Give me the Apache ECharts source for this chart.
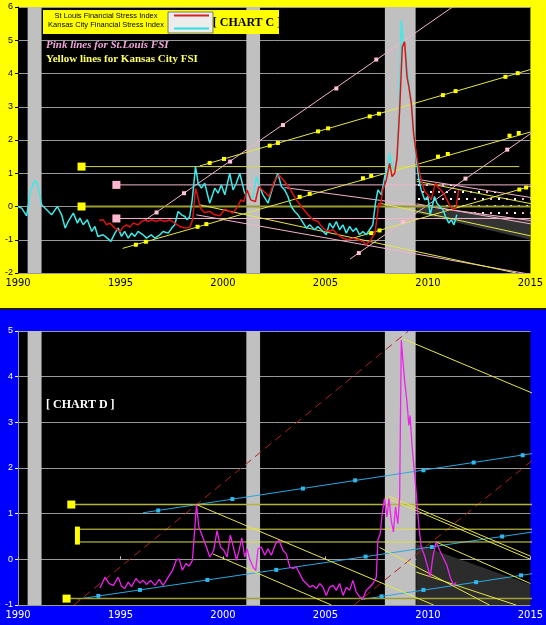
<!DOCTYPE html>
<html><head><meta charset="utf-8">
<script src="https://cdn.jsdelivr.net/npm/echarts@6/dist/echarts.min.js"></script>
<style>
html,body{margin:0;padding:0;}
body{width:546px;height:625px;background:linear-gradient(#ffff00 0px,#ffff00 308px,#1a1a1a 308px,#1a1a1a 310px,#0000ff 310px);}
#c{width:546px;height:625px;}
</style>
</head><body><div id="c"></div>
<script>
// ---------- DATA ----------
const yearTicks = [1990, 1995, 2000, 2005, 2010, 2015];
const recessions = [[1990.47, 1991.15], [2001.14, 2001.81], [2007.9, 2009.4]];

const kcFSI = [[1990.0,0.0],[1990.18,-0.05],[1990.42,-0.28],[1990.62,0.5],[1990.83,0.78],[1990.94,0.7],[1991.15,0.05],[1991.4,-0.1],[1991.64,-0.25],[1991.92,0.0],[1992.13,-0.25],[1992.3,-0.65],[1992.45,-0.45],[1992.7,-0.2],[1992.9,-0.5],[1993.02,-0.35],[1993.18,-0.55],[1993.38,-0.4],[1993.6,-0.75],[1993.75,-0.6],[1993.9,-0.9],[1994.15,-0.85],[1994.3,-0.92],[1994.53,-1.05],[1994.73,-0.8],[1994.89,-0.65],[1995.05,-0.9],[1995.2,-0.75],[1995.38,-0.95],[1995.54,-0.8],[1995.7,-0.9],[1995.86,-0.75],[1996.1,-0.85],[1996.27,-0.95],[1996.5,-0.85],[1996.68,-0.95],[1996.92,-0.85],[1997.08,-0.75],[1997.33,-0.8],[1997.5,-0.65],[1997.65,-0.55],[1997.81,-0.15],[1997.98,-0.25],[1998.14,-0.3],[1998.25,-0.4],[1998.38,-0.3],[1998.5,0.2],[1998.66,1.2],[1998.79,0.7],[1998.95,0.55],[1999.11,0.7],[1999.35,0.1],[1999.6,0.55],[1999.76,0.4],[1999.92,0.65],[2000.09,0.35],[2000.33,1.0],[2000.49,0.5],[2000.65,0.7],[2000.82,1.0],[2001.06,0.4],[2001.3,0.3],[2001.47,0.25],[2001.63,0.9],[2001.79,0.6],[2001.95,0.35],[2002.2,0.1],[2002.44,0.6],[2002.68,1.0],[2002.85,0.6],[2003.01,0.5],[2003.17,0.3],[2003.33,0.0],[2003.5,-0.15],[2003.66,-0.25],[2003.82,-0.4],[2004.07,-0.65],[2004.23,-0.55],[2004.47,-0.7],[2004.63,-0.6],[2004.8,-0.7],[2005.04,-0.85],[2005.2,-0.5],[2005.37,-0.65],[2005.53,-0.45],[2005.69,-0.7],[2005.85,-0.55],[2006.02,-0.8],[2006.18,-0.6],[2006.34,-0.75],[2006.5,-0.65],[2006.66,-0.85],[2006.83,-0.75],[2006.99,-0.85],[2007.15,-0.7],[2007.31,-0.55],[2007.44,0.1],[2007.56,0.5],[2007.73,0.35],[2007.89,0.9],[2008.05,1.2],[2008.13,1.6],[2008.25,1.2],[2008.38,1.1],[2008.49,1.5],[2008.59,2.9],[2008.7,5.6],[2008.78,5.0],[2008.91,4.7],[2009.03,3.9],[2009.14,3.4],[2009.27,2.6],[2009.35,1.9],[2009.46,1.3],[2009.56,0.8],[2009.67,0.5],[2009.84,0.2],[2010.0,0.3],[2010.11,-0.25],[2010.21,0.0],[2010.32,0.3],[2010.44,0.1],[2010.57,0.0],[2010.73,-0.1],[2010.86,-0.3],[2011.02,-0.5],[2011.14,-0.4],[2011.27,-0.55],[2011.41,-0.25]];

const stlFSI = [[1993.96,-0.42],[1994.16,-0.4],[1994.32,-0.55],[1994.48,-0.5],[1994.73,-0.65],[1994.97,-0.75],[1995.13,-0.62],[1995.3,-0.55],[1995.46,-0.62],[1995.62,-0.5],[1995.86,-0.55],[1996.03,-0.45],[1996.19,-0.4],[1996.35,-0.45],[1996.51,-0.4],[1996.76,-0.45],[1996.92,-0.4],[1997.16,-0.45],[1997.41,-0.4],[1997.65,-0.5],[1997.89,-0.6],[1998.14,-0.65],[1998.38,-0.62],[1998.52,-0.4],[1998.66,0.55],[1998.75,0.35],[1998.9,-0.05],[1999.1,-0.18],[1999.35,-0.15],[1999.6,-0.25],[1999.85,-0.28],[2000.1,-0.08],[2000.33,-0.15],[2000.49,-0.2],[2000.72,0.0],[2000.88,0.2],[2001.02,0.15],[2001.18,0.5],[2001.35,0.2],[2001.58,0.15],[2001.75,0.6],[2002.0,0.45],[2002.25,0.3],[2002.5,0.75],[2002.72,0.95],[2003.01,0.75],[2003.25,0.55],[2003.58,0.2],[2003.82,0.0],[2004.15,-0.25],[2004.39,-0.4],[2004.63,-0.45],[2004.88,-0.65],[2005.12,-0.75],[2005.37,-0.7],[2005.61,-0.85],[2005.85,-0.95],[2006.1,-1.0],[2006.34,-0.95],[2006.58,-1.0],[2006.83,-1.05],[2006.99,-1.15],[2007.2,-1.02],[2007.42,-0.8],[2007.52,-0.3],[2007.6,0.1],[2007.68,0.0],[2007.8,0.5],[2007.97,0.8],[2008.13,1.3],[2008.25,0.9],[2008.38,1.0],[2008.49,1.45],[2008.62,2.9],[2008.75,4.8],[2008.86,4.95],[2008.98,3.9],[2009.07,3.6],[2009.19,3.1],[2009.3,2.2],[2009.43,1.6],[2009.56,1.1],[2009.67,0.8],[2009.84,0.45],[2010.0,0.35],[2010.16,0.2],[2010.28,0.5],[2010.37,0.7],[2010.54,0.55],[2010.7,0.45],[2010.89,0.25],[2011.09,0.0],[2011.25,-0.1],[2011.38,0.0],[2011.5,0.5]];

const stlFSI_D = [[1994.0,-0.63],[1994.24,-0.39],[1994.45,-0.53],[1994.65,-0.57],[1994.89,-0.39],[1995.05,-0.59],[1995.21,-0.64],[1995.38,-0.5],[1995.54,-0.6],[1995.75,-0.42],[1995.95,-0.52],[1996.11,-0.46],[1996.27,-0.55],[1996.47,-0.46],[1996.68,-0.57],[1996.89,-0.44],[1997.08,-0.57],[1997.33,-0.39],[1997.54,-0.24],[1997.73,-0.01],[1997.86,0.01],[1998.02,-0.24],[1998.19,-0.09],[1998.35,-0.15],[1998.51,-0.02],[1998.63,0.71],[1998.71,1.2],[1998.82,0.71],[1998.95,0.56],[1999.16,0.31],[1999.36,0.05],[1999.55,0.2],[1999.71,0.63],[1999.88,0.27],[2000.04,0.2],[2000.2,0.05],[2000.36,0.53],[2000.53,0.23],[2000.66,-0.02],[2000.79,0.2],[2000.92,0.47],[2001.06,0.05],[2001.18,0.23],[2001.3,0.01],[2001.47,-0.17],[2001.6,-0.24],[2001.71,0.23],[2001.87,0.27],[2002.04,0.09],[2002.2,0.23],[2002.36,0.09],[2002.57,0.34],[2002.73,0.42],[2002.93,0.2],[2003.09,0.12],[2003.26,-0.17],[2003.42,-0.2],[2003.58,-0.17],[2003.74,-0.31],[2003.91,-0.46],[2004.07,-0.53],[2004.23,-0.61],[2004.39,-0.57],[2004.56,-0.64],[2004.72,-0.53],[2004.88,-0.61],[2005.04,-0.79],[2005.2,-0.61],[2005.37,-0.57],[2005.53,-0.68],[2005.69,-0.53],[2005.86,-0.79],[2006.02,-0.61],[2006.18,-0.68],[2006.34,-0.46],[2006.5,-0.71],[2006.67,-0.82],[2006.83,-0.86],[2006.99,-0.68],[2007.15,-0.61],[2007.32,-0.53],[2007.48,-0.39],[2007.56,0.42],[2007.67,0.56],[2007.77,1.0],[2007.88,1.33],[2008.0,0.93],[2008.1,1.33],[2008.21,0.85],[2008.32,0.6],[2008.42,1.15],[2008.53,0.78],[2008.62,1.36],[2008.7,4.8],[2008.78,4.35],[2008.86,3.92],[2008.97,3.48],[2009.07,2.93],[2009.13,3.15],[2009.23,2.46],[2009.35,1.87],[2009.43,1.44],[2009.56,0.71],[2009.67,0.27],[2009.83,0.09],[2009.99,-0.17],[2010.11,-0.39],[2010.24,0.05],[2010.4,0.38],[2010.57,0.2],[2010.73,0.05],[2010.92,-0.13],[2011.09,-0.39],[2011.25,-0.57],[2011.38,-0.5]];

// Chart C trend lines (pink = St.Louis, yellow = Kansas City)
const pinkRiseA = [[1996.2,-0.41],[2011.2,6.0]];
const pinkRiseA_pts = [[1996.76,-0.18],[1998.1,0.4],[2000.35,1.35],[2002.93,2.45],[2005.53,3.55],[2007.48,4.42]];
const pinkRiseB = [[2006.2,-1.58],[2015.73,2.5]];
const pinkRiseB_pts = [[2006.63,-1.4],[2008.78,-0.47],[2011.83,0.84],[2013.87,1.71]];
const pinkFlatHi = [[1994.8,0.65],[2015.73,0.65]];
const pinkFlatLo = [[1994.8,-0.36],[2015.73,-0.36]];
const pinkFall1 = [[1998.7,-0.25],[2015.0,-2.04]];
const pinkFall2 = [[2003.0,0.57],[2015.73,-0.48]];
const pinkChanTop = [[2009.45,0.82],[2015.73,0.2]];
const pinkChanBot = [[2009.45,0.08],[2015.73,-0.6]];
const pinkBigSquares = [[1994.8,0.65],[1994.8,-0.36]];

const yelFlatHi = [[1993.1,1.2],[2014.46,1.2]];
const yelFlatZero = [[1993.1,0],[2015.0,0]];
const yelBigSquares = [[1993.1,1.2],[1993.1,0]];
const yelRiseLow = [[1995.1,-1.26],[2015.73,2.37]];
const yelRiseLow_pts = [[1995.75,-1.15],[1996.24,-1.06],[1998.76,-0.61],[1999.19,-0.53],[2003.74,0.29],[2004.23,0.38],[2006.83,0.85],[2007.23,0.92],[2010.49,1.5],[2010.97,1.58],[2013.98,2.13],[2014.43,2.21]];
const yelRiseHigh = [[1998.87,1.22],[2015.73,4.25]];
const yelRiseHigh_pts = [[1999.35,1.31],[2000.05,1.43],[2002.28,1.83],[2002.68,1.91],[2004.64,2.26],[2005.13,2.35],[2007.16,2.71],[2007.61,2.79],[2010.73,3.35],[2011.35,3.47],[2013.78,3.9],[2014.38,4.01]];
const yelRiseMid = [[2006.3,-0.96],[2015.73,0.74]];
const yelRiseMid_pts = [[2007.23,-0.8],[2007.64,-0.72],[2014.46,0.51],[2014.79,0.57]];
const yelFall1 = [[1998.87,0.05],[2014.3,-2.0]];
const yelFall2 = [[2007.64,0.1],[2015.73,-0.98]];
const yelFall3 = [[2009.45,0.76],[2015.73,0.0]];
const kcGrayBand = [[2009.45,0.0],[2015.0,-0.38],[2015.0,-1.0],[2009.45,-0.2]];
const stlDotBand = [[2009.45,0.82],[2015.0,0.27],[2015.0,-0.38],[2009.45,0.0]];

// Chart D trend lines
const redDashA = [[1992.73,-1],[2009.05,5]];
const redDashB = [[2006.4,-1],[2015.73,2.4]];
const blueRiseHigh = [[1996.1,1.02],[2015.73,2.36]];
const blueRiseHigh_pts = [[1996.84,1.07],[2000.46,1.32],[2003.9,1.55],[2006.45,1.73],[2009.78,1.95],[2012.23,2.12],[2014.62,2.28]];
const blueRiseMid = [[1992.92,-0.87],[2015.73,0.64]];
const blueRiseMid_pts = [[1993.92,-0.8],[1995.95,-0.67],[1999.24,-0.45],[2002.6,-0.23],[2006.96,0.06],[2010.19,0.27],[2013.62,0.5]];
const blueRiseLow = [[2006.75,-0.88],[2015.73,-0.27]];
const blueRiseLow_pts = [[2007.74,-0.81],[2009.78,-0.67],[2012.35,-0.5],[2014.54,-0.35]];
const dFlat12 = [[1992.6,1.2],[2015.73,1.2]];
const dFlat066 = [[1992.9,0.66],[2015.73,0.66]];
const dFlat038 = [[1992.9,0.38],[2015.73,0.38]];
const dFlatLow = [[1992.37,-0.86],[2015.73,-0.86]];
const dBigSquares = [[1992.6,1.2],[1992.37,-0.86]];
const dBar = [[1992.9,0.52]];
const dFall1 = [[1998.7,1.2],[2010.28,-1.0]];
const dFall2 = [[1999.5,0.12],[2005.29,-1.0]];
const dFall3 = [[2008.78,4.83],[2015.73,3.52]];
const dFall4 = [[2007.9,1.36],[2015.0,0.0]];
const dFall5 = [[2008.1,1.38],[2015.0,0.07]];
const dFall6 = [[2010.4,0.38],[2015.0,-0.53]];
const dFall7 = [[2007.64,0.26],[2013.0,-1.0]];
const dFall8 = [[2009.43,-0.28],[2014.3,-1.0]];
const dGrayBand = [[2009.43,0.34],[2015.0,-0.55],[2015.0,-1.0],[2009.43,-1.0]];

// ---------- CHART ----------
const chart = echarts.init(document.getElementById('c'), null, {renderer:'canvas'});

function seg(g, pts, color, w, extra) {
  return Object.assign({type:'line', xAxisIndex:g, yAxisIndex:g, data:pts, symbol:'none', silent:true,
    animation:false, z:3, lineStyle:{color:color, width:w}}, extra || {});
}
function sq(g, pts, color, size, extra) {
  return Object.assign({type:'scatter', xAxisIndex:g, yAxisIndex:g, data:pts, symbol:'rect', symbolSize:size,
    silent:true, animation:false, z:5, itemStyle:{color:color, opacity:1}}, extra || {});
}
function poly(g, pts, fill, z) {
  return {type:'custom', xAxisIndex:g, yAxisIndex:g, data:[0], silent:true, animation:false, z:z,
    renderItem:function(p, api){ return {type:'polygon', shape:{points:pts.map(function(q){return api.coord(q);})}, style:{fill:fill}}; }};
}
function bands(g) {
  return {type:'line', xAxisIndex:g, yAxisIndex:g, data:[[1990,-9]], symbol:'none', silent:true, z:1,
    lineStyle:{width:0},
    markArea:{silent:true, itemStyle:{color:'#c0c0c0', opacity:1},
      data: recessions.map(function(r){return [{xAxis:r[0]},{xAxis:r[1]}];})}};
}
// dot pattern for the St.Louis channel
const pc = document.createElement('canvas'); pc.width = 16; pc.height = 14;
const pctx = pc.getContext('2d');
pctx.fillStyle = '#000'; pctx.fillRect(0,0,16,14);
pctx.fillStyle = '#ffffff'; pctx.fillRect(2,2,2,2); pctx.fillRect(14,9,2,2);
pctx.fillStyle = '#ffb0d0'; pctx.fillRect(10,2,2,2); pctx.fillRect(6,9,2,2);
const dotFill = {image: pc, repeat:'repeat'};

const PINK = '#f2b4cc', YEL = '#e6e64a', OLIVE = '#9c9c30', CYANL = '#2aa8e0';
const noClip = {clip:false};
const labelFont = "'Liberation Sans Narrow','DejaVu Sans Condensed','Arial Narrow',Arial,sans-serif";

const series = [
  bands(0), bands(1),
  poly(0, kcGrayBand, '#333333', 2),
  poly(0, stlDotBand, dotFill, 2),
  poly(1, dGrayBand, '#2c2c2c', 2),
  // chart C pink
  seg(0, pinkRiseA, PINK, 1), seg(0, pinkRiseB, PINK, 1, noClip),
  seg(0, pinkFlatHi, PINK, 1, noClip), seg(0, pinkFlatLo, PINK, 1, noClip),
  seg(0, pinkFall1, PINK, 1), seg(0, pinkFall2, PINK, 1, noClip),
  seg(0, pinkChanTop, PINK, 1, noClip), seg(0, pinkChanBot, PINK, 1, noClip),
  // chart C yellow
  seg(0, yelFlatHi, '#d4d45a', 1), seg(0, yelFlatZero, OLIVE, 2),
  seg(0, yelRiseLow, YEL, 1, noClip), seg(0, yelRiseHigh, YEL, 1, noClip), seg(0, yelRiseMid, YEL, 1, noClip),
  seg(0, yelFall1, YEL, 1), seg(0, yelFall2, YEL, 1, noClip), seg(0, yelFall3, YEL, 1, noClip),
  // data C
  seg(0, kcFSI, '#3ceaea', 1.5, {z:4}),
  seg(0, stlFSI, '#dd1414', 1.5, {z:4}),
  sq(0, pinkRiseA_pts, '#ffc0d8', 4), sq(0, pinkRiseB_pts, '#ffc0d8', 4),
  sq(0, yelRiseLow_pts, '#ffff00', 4), sq(0, yelRiseHigh_pts, '#ffff00', 4), sq(0, yelRiseMid_pts, '#ffff00', 4),
  sq(0, pinkBigSquares, '#ffb6cc', 8), sq(0, yelBigSquares, '#ffff00', 8),
  // chart D
  seg(1, redDashA, '#b02222', 1, {lineStyle:{color:'#b02222', width:1, type:[8,5]}}),
  seg(1, redDashB, '#b02222', 1, {clip:false, lineStyle:{color:'#b02222', width:1, type:[8,5]}}),
  seg(1, blueRiseHigh, CYANL, 1, noClip), seg(1, blueRiseMid, CYANL, 1, noClip), seg(1, blueRiseLow, CYANL, 1, noClip),
  seg(1, dFlat12, '#b4b440', 1.5, noClip), seg(1, dFlat066, '#dede50', 1, noClip),
  seg(1, dFlat038, '#dede50', 1, noClip), seg(1, dFlatLow, '#a0a030', 1.5, noClip),
  seg(1, dFall1, YEL, 1), seg(1, dFall2, YEL, 1), seg(1, dFall3, YEL, 1, noClip),
  seg(1, dFall4, YEL, 1), seg(1, dFall5, YEL, 1), seg(1, dFall6, YEL, 1),
  seg(1, dFall7, YEL, 1), seg(1, dFall8, YEL, 1),
  seg(1, stlFSI_D, '#ee22ee', 1.3, {z:4}),
  sq(1, blueRiseHigh_pts, '#30b8f0', 4), sq(1, blueRiseMid_pts, '#30b8f0', 4), sq(1, blueRiseLow_pts, '#30b8f0', 4),
  sq(1, dBigSquares, '#ffff00', 8), sq(1, dBar, '#ffff00', [5,18])
];

function xAx(g, col) {
  return {gridIndex:g, type:'value', min:1990, max:2015, interval:5,
    axisLine:{show:false}, splitLine:{show:false},
    axisTick:{show:g===1, inside:true, length:3, lineStyle:{color:'#c0c0c0'}},
    axisLabel:{color:col, fontSize:11, fontFamily:labelFont, margin:5, formatter:function(v){return String(v);}}};
}
function yAx(g, mn, mx, col) {
  return {gridIndex:g, type:'value', min:mn, max:mx, interval:1,
    axisLine:{show:true, lineStyle:{color:g===0?'#000':'#9090c0', width:1}},
    axisTick:{show:true, length:3, lineStyle:{color:col}},
    splitLine:{show:true, lineStyle:{color:'#9a9a9a', width:1}},
    axisLabel:{color:col, fontSize:9, fontFamily:'Arial, Liberation Sans, sans-serif', margin:5}};
}

chart.setOption({
  animation:false,
  backgroundColor:'transparent',
  grid:[
    {left:18, top:7, width:513, height:266, show:true, backgroundColor:'#000', borderWidth:0},
    {left:18, top:331, width:513, height:274, show:true, backgroundColor:'#000', borderWidth:0}
  ],
  xAxis:[xAx(0,'#000033'), xAx(1,'#ffffff')],
  yAxis:[yAx(0,-2,6,'#000'), yAx(1,-1,5,'#ffffff')],
  series: series,
  graphic:[
    {type:'rect', z:100, shape:{x:43, y:10, width:236, height:24}, style:{fill:'#ffff00'}},
    {type:'text', z:101, style:{x:106, y:16, text:'St Louis Financial Stress Index', fontSize:7.5, fontFamily:'Arial, Liberation Sans', fill:'#000', align:'center', verticalAlign:'middle'}},
    {type:'text', z:101, style:{x:106, y:25, text:'Kansas City Financial Stress Index', fontSize:7.5, fontFamily:'Arial, Liberation Sans', fill:'#000', align:'center', verticalAlign:'middle'}},
    {type:'rect', z:101, shape:{x:168, y:12, width:45, height:21}, style:{fill:'#ececec', stroke:'#777', lineWidth:1}},
    {type:'line', z:102, shape:{x1:174, y1:15.5, x2:209, y2:15.5}, style:{stroke:'#dd2020', lineWidth:2}},
    {type:'line', z:102, shape:{x1:174, y1:28.5, x2:209, y2:28.5}, style:{stroke:'#30e0e0', lineWidth:2}},
    {type:'text', z:101, style:{x:247, y:23, text:'[ CHART C ]', fontSize:12, fontWeight:'bold', fontFamily:'Liberation Serif, Times New Roman, serif', fill:'#000', align:'center', verticalAlign:'middle'}},
    {type:'text', z:101, style:{x:46, y:45, text:'Pink lines for St.Louis FSI', fontSize:11, fontWeight:'bold', fontStyle:'italic', fontFamily:'Liberation Serif, Times New Roman, serif', fill:'#f4a6dc', verticalAlign:'middle'}},
    {type:'text', z:101, style:{x:46, y:59, text:'Yellow lines for Kansas City FSI', fontSize:11, fontWeight:'bold', fontFamily:'Liberation Serif, Times New Roman, serif', fill:'#ffff66', verticalAlign:'middle'}},
    {type:'text', z:101, style:{x:46, y:405, text:'[ CHART D ]', fontSize:12, fontWeight:'bold', fontFamily:'Liberation Serif, Times New Roman, serif', fill:'#ffffff', verticalAlign:'middle'}}
  ]
});
</script></body></html>
